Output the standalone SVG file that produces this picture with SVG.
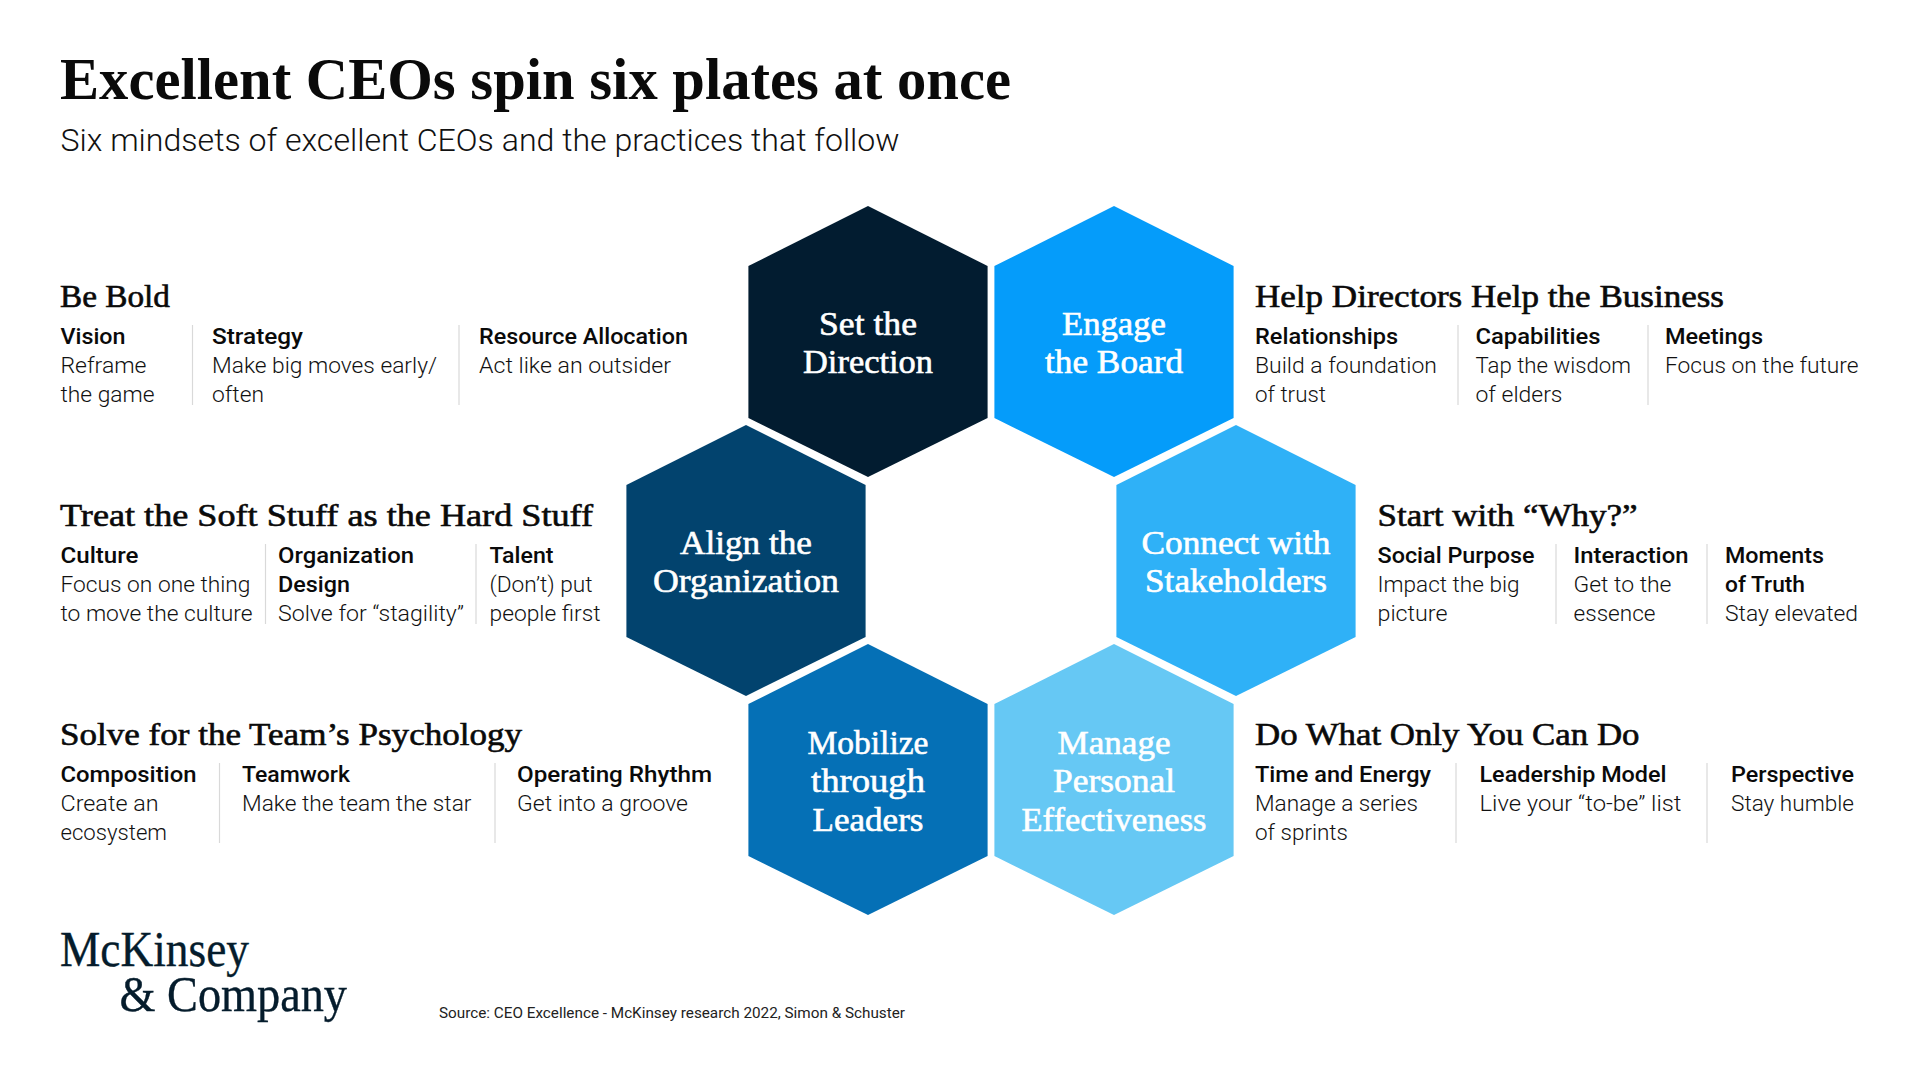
<svg xmlns="http://www.w3.org/2000/svg" width="1920" height="1080" viewBox="0 0 1920 1080">
<style>
text{font-family:"Liberation Serif","Times New Roman",serif}
.title{font-size:60px;font-weight:700;fill:#0a0a0a}
.sub,.b,.h{font-family:Roboto,"Liberation Sans",sans-serif}
.sub{font-size:31px;font-weight:300;fill:#111}
.s{font-size:31px;fill:#0a0a0a;stroke:#0a0a0a;stroke-width:.6px}
.h{font-size:22.5px;font-weight:500;fill:#0a0a0a}
.b{font-size:22.5px;font-weight:300;fill:#111}
.n{font-size:33.5px;fill:#fff;stroke:#fff;stroke-width:.6px;text-anchor:middle}
.logo{font-size:50px;fill:#051c2c;stroke:#051c2c;stroke-width:.35px}
.src{font-family:Roboto,"Liberation Sans",sans-serif;font-size:14.5px;fill:#222}
.d{stroke:#d9d9d9;stroke-width:1.2;fill:none}
</style>
<defs><polygon id="hex" points="0,-135.5 119.6,-75.5 119.6,76.5 0,135.5 -119.6,76.5 -119.6,-75.5"/></defs>
<rect width="1920" height="1080" fill="#fff"/>
<g id="header">
<text class="title" x="60" y="98.5" textLength="951" lengthAdjust="spacingAndGlyphs">Excellent CEOs spin six plates at once</text>
<text class="sub" x="60.5" y="151" textLength="839" lengthAdjust="spacingAndGlyphs">Six mindsets of excellent CEOs and the practices that follow</text>
</g>
<g id="node-set-direction"><use href="#hex" x="868" y="341.5" fill="#021c30"/>
<text class="n" x="868" y="335" textLength="98" lengthAdjust="spacingAndGlyphs">Set the</text><text class="n" x="868" y="373" textLength="130" lengthAdjust="spacingAndGlyphs">Direction</text></g>
<g id="node-engage-board"><use href="#hex" x="1114" y="341.5" fill="#059cfa"/>
<text class="n" x="1114" y="335" textLength="104" lengthAdjust="spacingAndGlyphs">Engage</text><text class="n" x="1114" y="373" textLength="138" lengthAdjust="spacingAndGlyphs">the Board</text></g>
<g id="node-align-org"><use href="#hex" x="746" y="560.5" fill="#02436e"/>
<text class="n" x="746" y="554" textLength="132" lengthAdjust="spacingAndGlyphs">Align the</text><text class="n" x="746" y="592" textLength="186" lengthAdjust="spacingAndGlyphs">Organization</text></g>
<g id="node-connect-stakeholders"><use href="#hex" x="1236" y="560.5" fill="#2fb1f7"/>
<text class="n" x="1236" y="554" textLength="189" lengthAdjust="spacingAndGlyphs">Connect with</text><text class="n" x="1236" y="592" textLength="182" lengthAdjust="spacingAndGlyphs">Stakeholders</text></g>
<g id="node-mobilize-leaders"><use href="#hex" x="868" y="779.5" fill="#0570b6"/>
<text class="n" x="868" y="754" textLength="121" lengthAdjust="spacingAndGlyphs">Mobilize</text><text class="n" x="868" y="792" textLength="114" lengthAdjust="spacingAndGlyphs">through</text><text class="n" x="868" y="831" textLength="111" lengthAdjust="spacingAndGlyphs">Leaders</text></g>
<g id="node-manage-effectiveness"><use href="#hex" x="1114" y="779.5" fill="#66c8f4"/>
<text class="n" x="1114" y="754" textLength="113" lengthAdjust="spacingAndGlyphs">Manage</text><text class="n" x="1114" y="792" textLength="122" lengthAdjust="spacingAndGlyphs">Personal</text><text class="n" x="1114" y="831" textLength="185" lengthAdjust="spacingAndGlyphs">Effectiveness</text></g>
<g id="block-be-bold">
<text class="s" x="60" y="306.7" textLength="110" lengthAdjust="spacingAndGlyphs">Be Bold</text>
<text class="h" x="60.5" y="344" textLength="65" lengthAdjust="spacingAndGlyphs">Vision</text>
<text class="b" x="60.5" y="373" textLength="86" lengthAdjust="spacingAndGlyphs">Reframe</text>
<text class="b" x="60.5" y="402" textLength="94" lengthAdjust="spacingAndGlyphs">the game</text>
<line class="d" x1="192.5" y1="325" x2="192.5" y2="405"/>
<text class="h" x="212" y="344" textLength="91" lengthAdjust="spacingAndGlyphs">Strategy</text>
<text class="b" x="212" y="373" textLength="225" lengthAdjust="spacingAndGlyphs">Make big moves early/</text>
<text class="b" x="212" y="402" textLength="52" lengthAdjust="spacingAndGlyphs">often</text>
<line class="d" x1="459" y1="325" x2="459" y2="405"/>
<text class="h" x="479" y="344" textLength="209" lengthAdjust="spacingAndGlyphs">Resource Allocation</text>
<text class="b" x="479" y="373" textLength="192" lengthAdjust="spacingAndGlyphs">Act like an outsider</text>
</g>
<g id="block-help-directors">
<text class="s" x="1255" y="306.7" textLength="469" lengthAdjust="spacingAndGlyphs">Help Directors Help the Business</text>
<text class="h" x="1255" y="344" textLength="143" lengthAdjust="spacingAndGlyphs">Relationships</text>
<text class="b" x="1255" y="373" textLength="182" lengthAdjust="spacingAndGlyphs">Build a foundation</text>
<text class="b" x="1255" y="402" textLength="71" lengthAdjust="spacingAndGlyphs">of trust</text>
<line class="d" x1="1458" y1="325" x2="1458" y2="405"/>
<text class="h" x="1475.5" y="344" textLength="125" lengthAdjust="spacingAndGlyphs">Capabilities</text>
<text class="b" x="1475.5" y="373" textLength="155.5" lengthAdjust="spacingAndGlyphs">Tap the wisdom</text>
<text class="b" x="1475.5" y="402" textLength="87" lengthAdjust="spacingAndGlyphs">of elders</text>
<line class="d" x1="1648" y1="325" x2="1648" y2="405"/>
<text class="h" x="1665" y="344" textLength="98" lengthAdjust="spacingAndGlyphs">Meetings</text>
<text class="b" x="1665" y="373" textLength="193.5" lengthAdjust="spacingAndGlyphs">Focus on the future</text>
</g>
<g id="block-soft-stuff">
<text class="s" x="60" y="525.7" textLength="533" lengthAdjust="spacingAndGlyphs">Treat the Soft Stuff as the Hard Stuff</text>
<text class="h" x="60.5" y="563" textLength="78" lengthAdjust="spacingAndGlyphs">Culture</text>
<text class="b" x="60.5" y="592" textLength="190" lengthAdjust="spacingAndGlyphs">Focus on one thing</text>
<text class="b" x="60.5" y="621" textLength="192" lengthAdjust="spacingAndGlyphs">to move the culture</text>
<line class="d" x1="265.5" y1="544" x2="265.5" y2="624"/>
<text class="h" x="278" y="563" textLength="136" lengthAdjust="spacingAndGlyphs">Organization</text>
<text class="h" x="278" y="592" textLength="72" lengthAdjust="spacingAndGlyphs">Design</text>
<text class="b" x="278" y="621" textLength="186" lengthAdjust="spacingAndGlyphs">Solve for “stagility”</text>
<line class="d" x1="476" y1="544" x2="476" y2="624"/>
<text class="h" x="489.5" y="563" textLength="64" lengthAdjust="spacingAndGlyphs">Talent</text>
<text class="b" x="489.5" y="592" textLength="103" lengthAdjust="spacingAndGlyphs">(Don’t) put</text>
<text class="b" x="489.5" y="621" textLength="111" lengthAdjust="spacingAndGlyphs">people first</text>
</g>
<g id="block-start-why">
<text class="s" x="1377.5" y="525.7" textLength="260" lengthAdjust="spacingAndGlyphs">Start with “Why?”</text>
<text class="h" x="1377.5" y="563" textLength="157" lengthAdjust="spacingAndGlyphs">Social Purpose</text>
<text class="b" x="1377.5" y="592" textLength="142" lengthAdjust="spacingAndGlyphs">Impact the big</text>
<text class="b" x="1377.5" y="621" textLength="70" lengthAdjust="spacingAndGlyphs">picture</text>
<line class="d" x1="1556" y1="544" x2="1556" y2="624"/>
<text class="h" x="1573.5" y="563" textLength="115" lengthAdjust="spacingAndGlyphs">Interaction</text>
<text class="b" x="1573.5" y="592" textLength="98" lengthAdjust="spacingAndGlyphs">Get to the</text>
<text class="b" x="1573.5" y="621" textLength="82" lengthAdjust="spacingAndGlyphs">essence</text>
<line class="d" x1="1707" y1="544" x2="1707" y2="624"/>
<text class="h" x="1725" y="563" textLength="99" lengthAdjust="spacingAndGlyphs">Moments</text>
<text class="h" x="1725" y="592" textLength="80" lengthAdjust="spacingAndGlyphs">of Truth</text>
<text class="b" x="1725" y="621" textLength="133" lengthAdjust="spacingAndGlyphs">Stay elevated</text>
</g>
<g id="block-team-psychology">
<text class="s" x="60" y="744.7" textLength="462" lengthAdjust="spacingAndGlyphs">Solve for the Team’s Psychology</text>
<text class="h" x="60.5" y="782" textLength="136" lengthAdjust="spacingAndGlyphs">Composition</text>
<text class="b" x="60.5" y="811" textLength="98" lengthAdjust="spacingAndGlyphs">Create an</text>
<text class="b" x="60.5" y="840" textLength="106.5" lengthAdjust="spacingAndGlyphs">ecosystem</text>
<line class="d" x1="219.5" y1="763" x2="219.5" y2="843"/>
<text class="h" x="242" y="782" textLength="108" lengthAdjust="spacingAndGlyphs">Teamwork</text>
<text class="b" x="242" y="811" textLength="229.5" lengthAdjust="spacingAndGlyphs">Make the team the star</text>
<line class="d" x1="495" y1="763" x2="495" y2="843"/>
<text class="h" x="517" y="782" textLength="195" lengthAdjust="spacingAndGlyphs">Operating Rhythm</text>
<text class="b" x="517" y="811" textLength="171" lengthAdjust="spacingAndGlyphs">Get into a groove</text>
</g>
<g id="block-only-you">
<text class="s" x="1255" y="744.7" textLength="384.5" lengthAdjust="spacingAndGlyphs">Do What Only You Can Do</text>
<text class="h" x="1255" y="782" textLength="176" lengthAdjust="spacingAndGlyphs">Time and Energy</text>
<text class="b" x="1255" y="811" textLength="163" lengthAdjust="spacingAndGlyphs">Manage a series</text>
<text class="b" x="1255" y="840" textLength="93" lengthAdjust="spacingAndGlyphs">of sprints</text>
<line class="d" x1="1456" y1="763" x2="1456" y2="843"/>
<text class="h" x="1479.5" y="782" textLength="187" lengthAdjust="spacingAndGlyphs">Leadership Model</text>
<text class="b" x="1479.5" y="811" textLength="202" lengthAdjust="spacingAndGlyphs">Live your “to-be” list</text>
<line class="d" x1="1707" y1="763" x2="1707" y2="843"/>
<text class="h" x="1731" y="782" textLength="123" lengthAdjust="spacingAndGlyphs">Perspective</text>
<text class="b" x="1731" y="811" textLength="123" lengthAdjust="spacingAndGlyphs">Stay humble</text>
</g>
<g id="footer">
<text class="logo" x="60" y="966" textLength="189" lengthAdjust="spacingAndGlyphs">McKinsey</text>
<text class="logo" x="119.5" y="1010.5" textLength="227.5" lengthAdjust="spacingAndGlyphs">&amp; Company</text>
<text class="src" x="439" y="1017.5" textLength="466" lengthAdjust="spacingAndGlyphs">Source: CEO Excellence - McKinsey research 2022, Simon &amp; Schuster</text>
</g>
</svg>
